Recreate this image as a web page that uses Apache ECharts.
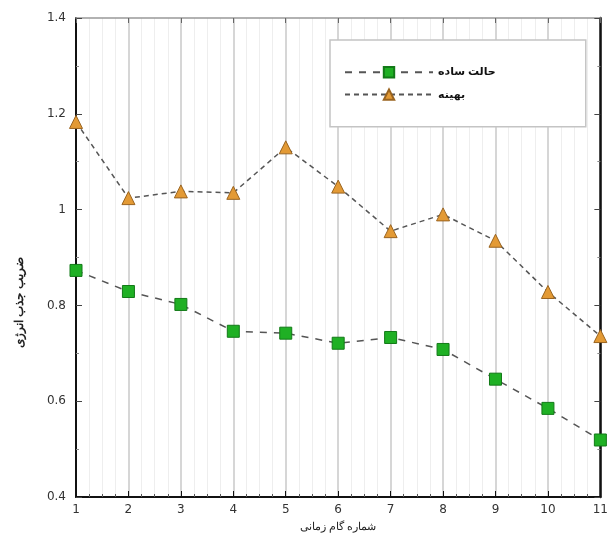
<!DOCTYPE html>
<html>
<head>
<meta charset="utf-8">
<script src="https://cdn.jsdelivr.net/npm/echarts@6/dist/echarts.min.js"></script>
<style>
  html, body { margin: 0; padding: 0; background: #fff; }
  #chart { width: 611px; height: 538px; }
</style>
</head>
<body>
<div id="chart"></div>
<script>
// Step numbers along the horizontal axis
const steps = [1, 2, 3, 4, 5, 6, 7, 8, 9, 10, 11];
// Series values
const simpleValues = [0.873, 0.829, 0.802, 0.746, 0.742, 0.721, 0.733, 0.708, 0.646, 0.585, 0.519];
const optimizedValues = [1.183, 1.024, 1.038, 1.035, 1.130, 1.048, 0.955, 0.990, 0.935, 0.828, 0.736];
// Series names and axis titles
const seriesNames = ['حالت ساده', 'بهینه'];
const xTitle = 'شماره گام زمانی';
const yTitle = 'ضریب جذب انرژی';

const chart = echarts.init(document.getElementById('chart'));
const font = 'DejaVu Sans, Noto Sans, sans-serif';

function pairs(vals) { return steps.map((s, i) => [s, vals[i]]); }

chart.setOption({
  animation: false,
  backgroundColor: '#fff',
  grid: { left: 76, right: 8, top: 18, bottom: 41, containLabel: false },
  legend: {
    orient: 'vertical',
    left: 330, top: 40,
    padding: [26, 90, 26, 14],
    itemGap: 10,
    itemWidth: 88, itemHeight: 13,
    backgroundColor: '#fff',
    borderColor: '#c4c4c4', borderWidth: 1.5,
    textStyle: { fontFamily: 'Noto Sans, DejaVu Sans, sans-serif', fontSize: 11, color: '#111', fontWeight: 'bold' },
    data: seriesNames
  },
  xAxis: [{
    type: 'value', min: 1, max: 11, interval: 1,
    name: xTitle, nameLocation: 'middle', nameGap: 22,
    nameTextStyle: { fontFamily: 'Noto Sans, sans-serif', fontSize: 11, color: '#222' },
    axisLine: { lineStyle: { color: '#111', width: 2 } },
    axisTick: { inside: true, length: 6, lineStyle: { color: '#111' } },
    minorTick: { show: true, splitNumber: 4, length: 3, lineStyle: { color: '#555' } },
    axisLabel: { color: '#333', fontFamily: font, fontSize: 12, margin: 7 },
    splitLine: { show: true, lineStyle: { color: '#c8c8c8', width: 1.5 } },
    minorSplitLine: { show: true, lineStyle: { color: '#eeeeee', width: 1 } }
  }, {
    type: 'value', position: 'top', min: 1, max: 11, interval: 1,
    axisLine: { show: true, onZero: false, lineStyle: { color: '#999', width: 1.5 } },
    axisTick: { inside: true, length: 5, lineStyle: { color: '#666' } },
    axisLabel: { show: false },
    splitLine: { show: false }
  }],
  yAxis: [{
    type: 'value', min: 0.4, max: 1.4, interval: 0.2,
    name: yTitle, nameLocation: 'middle', nameGap: 50,
    nameTextStyle: { fontFamily: 'Noto Sans, sans-serif', fontSize: 12, color: '#222', fontWeight: 'bold',
      padding: [0, 90, 0, 0] },
    axisLine: { show: true, lineStyle: { color: '#111', width: 2 } },
    axisTick: { show: true, inside: true, length: 6, lineStyle: { color: '#444' } },
    minorTick: { show: true, splitNumber: 2, length: 3, lineStyle: { color: '#888' } },
    axisLabel: { color: '#333', fontFamily: font, fontSize: 12, margin: 10,
      formatter: v => String(Math.round(v * 10) / 10) },
    splitLine: { show: false }
  }, {
    type: 'value', position: 'right', min: 0.4, max: 1.4, interval: 0.2,
    axisLine: { show: true, onZero: false, lineStyle: { color: '#111', width: 2.5 } },
    axisTick: { show: true, inside: true, length: 6, lineStyle: { color: '#444' } },
    minorTick: { show: true, splitNumber: 2, length: 3, lineStyle: { color: '#888' } },
    axisLabel: { show: false },
    splitLine: { show: false }
  }],
  series: [{
    name: seriesNames[0],
    type: 'line',
    data: pairs(simpleValues),
    symbol: 'rect', symbolSize: 12,
    lineStyle: { color: '#555', width: 1.5, type: [7, 7] },
    itemStyle: { color: '#1fb024', borderColor: '#137a18', borderWidth: 1 },
    z: 3
  }, {
    name: seriesNames[1],
    type: 'line',
    data: pairs(optimizedValues),
    symbol: 'triangle', symbolSize: 13,
    lineStyle: { color: '#555', width: 1.5, type: [5, 4] },
    itemStyle: { color: '#e39a35', borderColor: '#9a6420', borderWidth: 1 },
    z: 3
  }]
});
</script>
</body>
</html>
